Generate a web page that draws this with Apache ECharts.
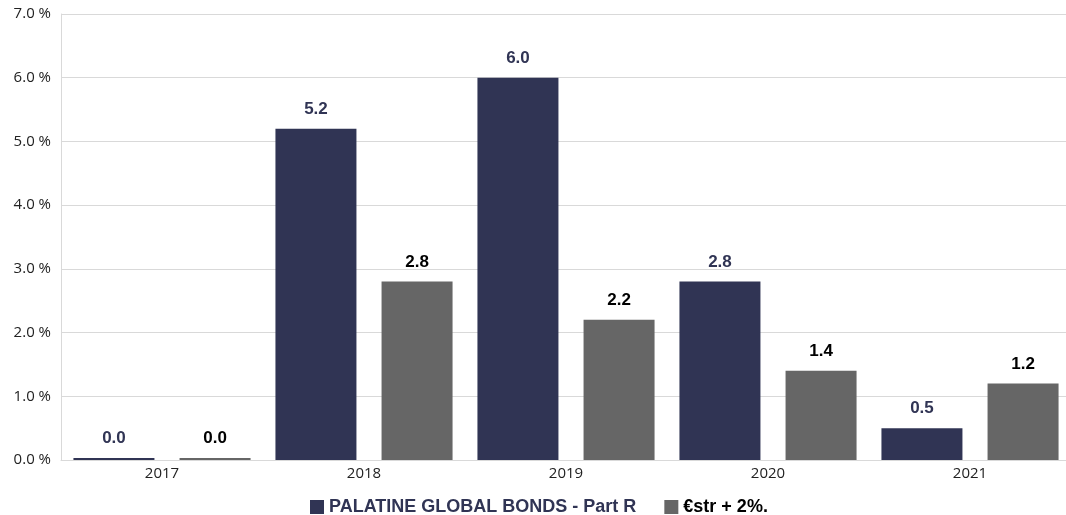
<!DOCTYPE html>
<html>
<head>
<meta charset="utf-8">
<script src="https://cdn.jsdelivr.net/npm/echarts@6/dist/echarts.min.js"></script>
<style>
  html, body { margin: 0; padding: 0; background: #fff; }
  #chart { width: 1066px; height: 515px; }
</style>
</head>
<body>
<div id="chart"></div>
<script>
var years = ['2017', '2018', '2019', '2020', '2021'];
var fundValues = [0.0, 5.2, 6.0, 2.8, 0.5];
var benchValues = [0.0, 2.8, 2.2, 1.4, 1.2];
var seriesNames = ['PALATINE GLOBAL BONDS - Part R', '€str + 2%.'];

var navy = '#303454';
var grey = '#666666';

var myChart = echarts.init(document.getElementById('chart'));
var option = {
  animation: false,
  grid: { left: 61, width: 1010, top: 14, height: 446, outerBoundsMode: 'none' },
  legend: {
    left: 305,
    top: 493,
    itemWidth: 14,
    itemHeight: 14,
    itemGap: 28,
    icon: 'rect',
    data: [
      { name: seriesNames[0], textStyle: { color: navy } },
      { name: seriesNames[1], textStyle: { color: '#000' } }
    ],
    textStyle: { fontFamily: 'Liberation Sans', fontWeight: 'bold', fontSize: 18 }
  },
  xAxis: {
    type: 'category',
    data: years,
    axisLine: { lineStyle: { color: '#d9d9d9' } },
    axisTick: { show: false },
    axisLabel: { color: '#222', fontFamily: 'Open Sans', fontSize: 15, margin: 6 }
  },
  yAxis: {
    type: 'value',
    min: 0,
    max: 7,
    interval: 1,
    axisLine: { show: true, lineStyle: { color: '#d9d9d9' } },
    splitLine: { lineStyle: { color: '#d9d9d9' } },
    axisLabel: {
      color: '#222', fontFamily: 'Open Sans', fontSize: 15, margin: 10,
      formatter: function (v) { return v.toFixed(1) + ' %'; }
    }
  },
  series: [
    {
      name: seriesNames[0],
      type: 'bar',
      data: fundValues,
      barWidth: 81,
      barGap: '31%',
      barMinHeight: 2,
      itemStyle: { color: navy },
      label: {
        show: true, position: 'top', distance: 11,
        color: navy, fontFamily: 'Liberation Sans', fontWeight: 'bold', fontSize: 17,
        formatter: function (p) { return p.value.toFixed(1); }
      }
    },
    {
      name: seriesNames[1],
      type: 'bar',
      data: benchValues,
      barWidth: 71,
      barMinHeight: 2,
      itemStyle: { color: grey },
      label: {
        show: true, position: 'top', distance: 11,
        color: '#000', fontFamily: 'Liberation Sans', fontWeight: 'bold', fontSize: 17,
        formatter: function (p) { return p.value.toFixed(1); }
      }
    }
  ]
};
myChart.setOption(option);
window.addEventListener('resize', function () { myChart.resize(); });
</script>
</body>
</html>
